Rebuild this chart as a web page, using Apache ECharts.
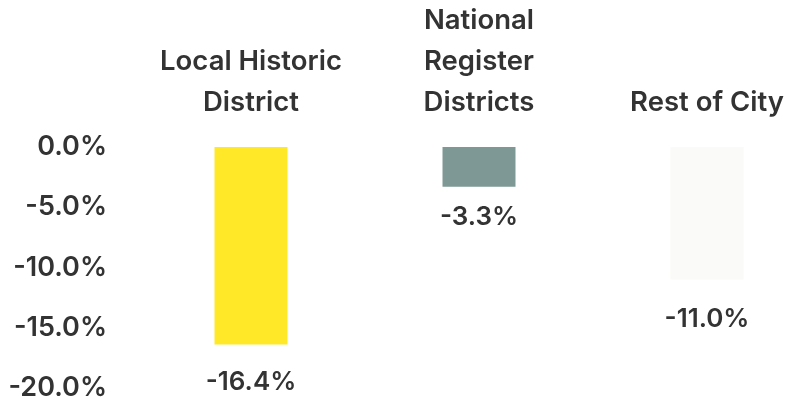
<!DOCTYPE html>
<html><head><meta charset="utf-8">
<script src="https://cdn.jsdelivr.net/npm/echarts@6/dist/echarts.min.js"></script>
<style>html,body{margin:0;padding:0;background:#fff}#c{width:788px;height:403px}</style>
</head><body><div id="c"></div>
<script>
const categories = ["Local Historic\nDistrict", "National\nRegister\nDistricts", "Rest of City"];
const values = [-16.4, -3.3, -11.0];
const colors = ["#FFE827", "#7E9995", "#FAFBF8"];
const labelGaps = [25, 17, 27];
const yTicks = [0, -5, -10, -15, -20];

const chart = echarts.init(document.getElementById('c'), null, {renderer: 'canvas'});
const font = 'Inter, sans-serif';
chart.setOption({
  animation: false,
  grid: {left: 251, right: 81, top: 147, bottom: 15, containLabel: false},
  xAxis: {
    type: 'category', data: categories, position: 'top', boundaryGap: false,
    axisLine: {show: false}, axisTick: {show: false}, splitLine: {show: false},
    axisLabel: {interval: 0, hideOverlap: false, margin: 24, color: '#333', fontSize: 27.5, fontWeight: 600, fontFamily: font, lineHeight: 41, verticalAlign: 'bottom'}
  },
  yAxis: {
    type: 'value', min: -20, max: 0, interval: 5,
    axisLine: {show: false}, axisTick: {show: false}, splitLine: {show: false},
    axisLabel: {margin: 144, color: '#333', fontSize: 27, fontWeight: 600, fontFamily: font,
      formatter: v => v.toFixed(1) + '%'}
  },
  series: [{
    type: 'bar', barWidth: 73,
    data: values.map((v, i) => ({
      value: v,
      itemStyle: {color: colors[i]},
      label: {distance: labelGaps[i]}
    })),
    label: {show: true, position: 'bottom', color: '#333', fontSize: 26, fontWeight: 600, fontFamily: font,
      formatter: p => p.value.toFixed(1) + '%'}
  }]
});
</script></body></html>
